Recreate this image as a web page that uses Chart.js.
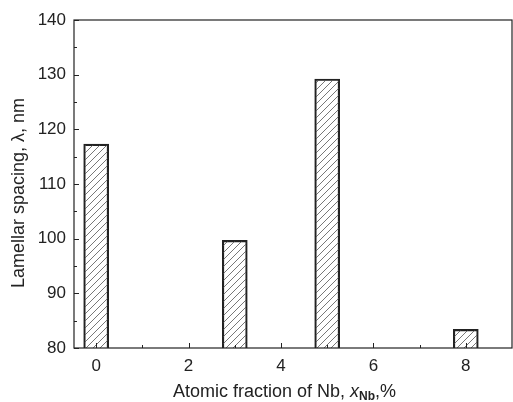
<!DOCTYPE html>
<html>
<head>
<meta charset="utf-8">
<script src="https://cdn.jsdelivr.net/npm/chart.js@4"></script>
<style>
  html, body { margin: 0; padding: 0; background: #fff; }
  #wrap { width: 513px; height: 402px; }
</style>
</head>
<body>
<div id="wrap"><canvas id="chart" width="513" height="402"></canvas></div>
<script>
// data
const nbFraction = [0, 3, 5, 8];
const lamellarSpacing = [117.3, 99.7, 129.2, 83.4];
const xTicks = [0, 2, 4, 6, 8];
const yTicks = [80, 90, 100, 110, 120, 130, 140];
const yTitle = 'Lamellar spacing, λ, nm';

const FONT = '"Liberation Sans", Arial, sans-serif';

// diagonal hatch for the bars
function hatchPattern() {
  const c = document.createElement('canvas');
  c.width = 7; c.height = 7;
  const g = c.getContext('2d');
  g.strokeStyle = '#555';
  g.lineWidth = 0.8;
  g.beginPath();
  g.moveTo(-1, 8); g.lineTo(8, -1);
  g.moveTo(-1, 1); g.lineTo(1, -1);
  g.moveTo(6, 8); g.lineTo(8, 6);
  g.stroke();
  return g.createPattern(c, 'repeat');
}

// frame, inward ticks and the axis titles (x one has a subscript)
const framePlugin = {
  id: 'frame',
  afterDraw(chart) {
    const { ctx, chartArea: a, scales } = chart;
    ctx.save();
    ctx.strokeStyle = '#222';
    ctx.lineWidth = 1.2;
    ctx.strokeRect(a.left, a.top, a.right - a.left, a.bottom - a.top);

    ctx.lineWidth = 1;
    for (let v = 80; v <= 140; v += 5) {
      const y = Math.round(scales.y.getPixelForValue(v)) + 0.5;
      const len = v % 10 === 0 ? 5 : 3;
      ctx.beginPath();
      ctx.moveTo(a.left, y); ctx.lineTo(a.left + len, y);
      ctx.stroke();
    }
    for (let v = 0; v <= 8; v += 1) {
      const x = Math.round(scales.x.getPixelForValue(v)) + 0.5;
      const len = v % 2 === 0 ? 5 : 3;
      ctx.beginPath();
      ctx.moveTo(x, a.bottom); ctx.lineTo(x, a.bottom - len);
      ctx.stroke();
    }

    ctx.fillStyle = '#222';
    ctx.textBaseline = 'alphabetic';
    ctx.textAlign = 'left';

    // x axis title
    const parts = [
      { t: 'Atomic fraction of Nb, ', f: '18px ' + FONT, dy: 0 },
      { t: 'x', f: 'italic 18px ' + FONT, dy: 0 },
      { t: 'Nb', f: 'bold 12px ' + FONT, dy: 3 },
      { t: ',%', f: '18px ' + FONT, dy: 0 }
    ];
    let x = 173;
    parts.forEach(p => {
      ctx.font = p.f;
      ctx.fillText(p.t, x, 397 + p.dy);
      x += ctx.measureText(p.t).width;
    });

    // y axis title
    ctx.translate(24, 193);
    ctx.rotate(-Math.PI / 2);
    ctx.font = '18px ' + FONT;
    ctx.textAlign = 'center';
    ctx.fillText(yTitle, 0, 0);
    ctx.restore();
  }
};

new Chart(document.getElementById('chart'), {
  type: 'bar',
  data: {
    datasets: [{
      data: nbFraction.map((x, i) => ({ x: x, y: lamellarSpacing[i] })),
      backgroundColor: hatchPattern(),
      borderColor: '#222',
      borderWidth: 1.5,
      borderSkipped: 'bottom',
      barThickness: 25
    }]
  },
  options: {
    responsive: false,
    animation: false,
    layout: { padding: { top: 20, right: 1, left: 0, bottom: 0 } },
    plugins: { legend: { display: false }, tooltip: { enabled: false } },
    scales: {
      x: {
        type: 'linear',
        offset: false,
        min: -0.48,
        max: 9,
        afterBuildTicks: s => { s.ticks = xTicks.map(v => ({ value: v })); },
        afterFit: s => { s.height = 54; },
        grid: { display: false, offset: false },
        border: { display: false },
        ticks: { color: '#222', font: { family: FONT, size: 17 }, padding: 0 }
      },
      y: {
        min: 80,
        max: 140,
        afterBuildTicks: s => { s.ticks = yTicks.map(v => ({ value: v })); },
        afterFit: s => { s.width = 74; },
        grid: { display: false },
        border: { display: false },
        ticks: { color: '#222', font: { family: FONT, size: 17 }, padding: 0 }
      }
    }
  },
  plugins: [framePlugin]
});
</script>
</body>
</html>
